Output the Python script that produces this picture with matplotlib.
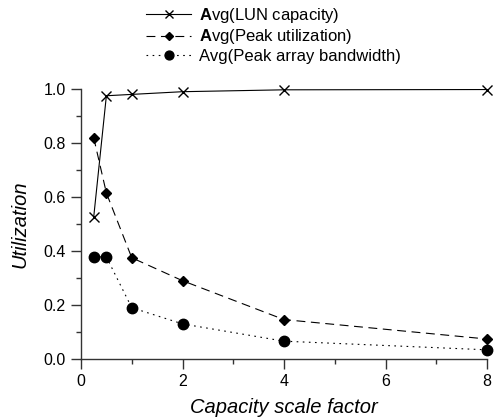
import matplotlib
matplotlib.use("Agg")
import matplotlib.pyplot as plt
from matplotlib.ticker import MultipleLocator

plt.rcParams['font.family'] = ['Liberation Sans', 'DejaVu Sans']
plt.rcParams['mathtext.fontset'] = 'custom'
plt.rcParams['mathtext.rm'] = 'Liberation Sans'
plt.rcParams['mathtext.bf'] = 'Liberation Sans:bold'

scale = [0.25, 0.5, 1, 2, 4, 8]
lun_capacity = [0.525, 0.975, 0.98, 0.99, 0.997, 0.998]
peak_util = [0.82, 0.615, 0.375, 0.29, 0.146, 0.074]
peak_bw = [0.378, 0.378, 0.19, 0.13, 0.066, 0.034]

labels = [r"$\mathbf{A}$vg(LUN capacity)",
          r"$\mathbf{A}$vg(Peak utilization)",
          "Avg(Peak array bandwidth)"]

fig = plt.figure(figsize=(4.94, 4.18), dpi=100)
ax = fig.add_axes([81/494, 1 - 359/418, 406/494, 270/418])

lw = 0.8
ax.plot(scale, lun_capacity, color='black', lw=lw, ls='-', marker='x',
        markersize=7, markeredgewidth=1.0, clip_on=False, label=labels[0])
ax.plot(scale, peak_util, color='black', lw=lw, ls=(0, (8, 5)), marker='D',
        markersize=5, clip_on=False, label=labels[1])
ax.plot(scale, peak_bw, color='black', lw=lw, ls=(0, (1.5, 4)), marker='o',
        markersize=7.5, clip_on=False, label=labels[2])

ax.set_xlim(0, 8)
ax.set_ylim(0, 1.0)
ax.xaxis.set_major_locator(MultipleLocator(2))
ax.xaxis.set_minor_locator(MultipleLocator(1))
ax.yaxis.set_major_locator(MultipleLocator(0.2))
ax.yaxis.set_minor_locator(MultipleLocator(0.1))
ax.yaxis.set_major_formatter(plt.FuncFormatter(lambda v, p: f"{v:.1f}"))

for s in ['top', 'right']:
    ax.spines[s].set_visible(False)
for s in ['left', 'bottom']:
    ax.spines[s].set_linewidth(1.0)
    ax.spines[s].set_color('#333333')

ax.tick_params(which='major', direction='out', length=7, width=1.0,
               labelsize=11.5, pad=4, color='#333333')
ax.tick_params(which='minor', direction='out', length=3.5, width=1.0,
               color='#333333')

ax.set_xlabel("Capacity scale factor", fontsize=14.5, style='italic', labelpad=6)
ax.set_ylabel("Utilization", fontsize=14.5, style='italic', labelpad=10)

fig.legend(loc='upper left', bbox_to_anchor=(146/494, 1 - 6/418),
           frameon=False, fontsize=12, handlelength=2.7, handletextpad=0.5,
           labelspacing=0.15, borderpad=0, borderaxespad=0, markerscale=0.85)

fig.savefig("out.png", dpi=100)
